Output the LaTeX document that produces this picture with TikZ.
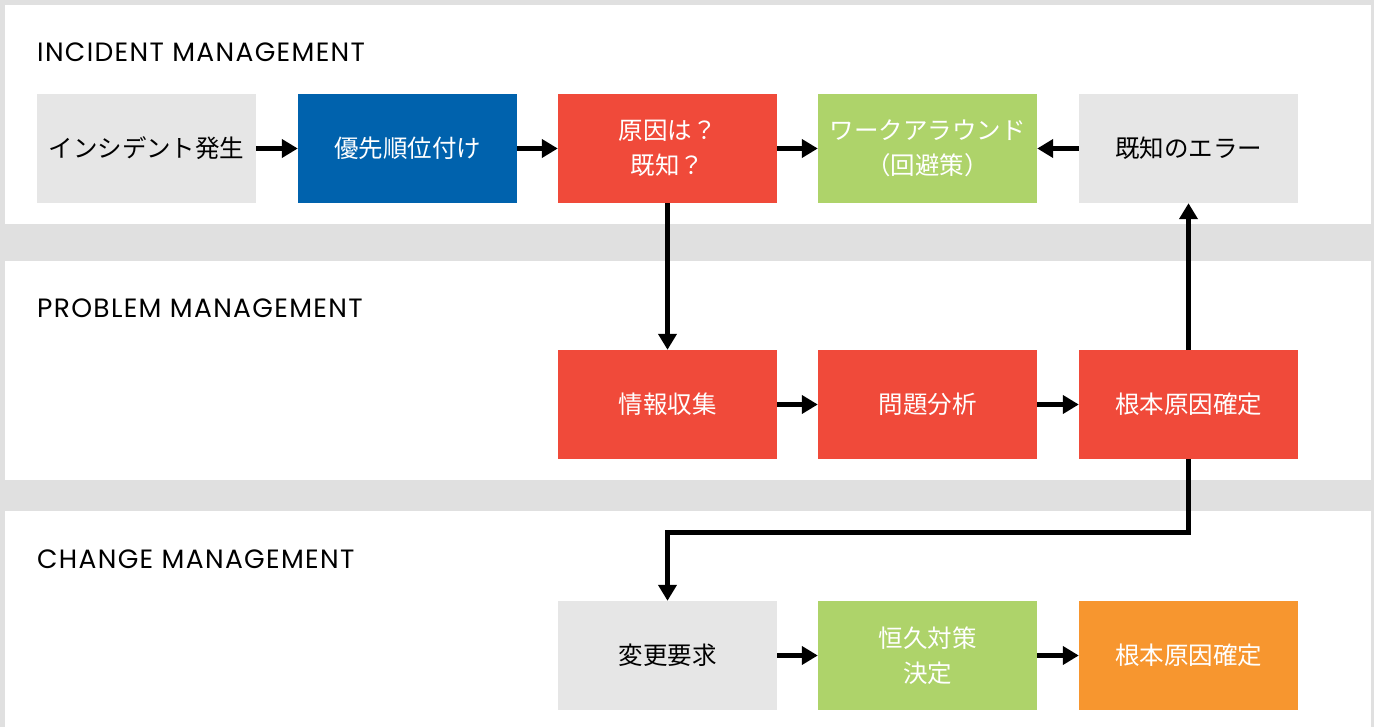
\documentclass[tikz,border=0pt]{standalone}
\usepackage{fontspec}
\setmainfont{Poppins}
\newfontfamily\jp{Noto Sans CJK JP}
\newfontfamily\hdr[LetterSpace=5]{Poppins}
\usetikzlibrary{arrows.meta}
\definecolor{bggray}{HTML}{E0E0E0}
\definecolor{boxgray}{HTML}{E6E6E6}
\definecolor{myblue}{HTML}{0062AD}
\definecolor{myred}{HTML}{F04A3A}
\definecolor{mygreen}{HTML}{AED36A}
\definecolor{myorange}{HTML}{F7962F}
\tikzset{
  box/.style={rectangle, minimum width=219pt, minimum height=109pt, inner sep=0pt, align=center, font=\jp\fontsize{24.5}{35}\selectfont},
  graybox/.style={box, fill=boxgray, text=black},
  bluebox/.style={box, fill=myblue, text=white},
  redbox/.style={box, fill=myred, text=white},
  greenbox/.style={box, fill=mygreen, text=white},
  orangebox/.style={box, fill=myorange, text=white},
  conn/.style={line width=5pt, -{Triangle[length=16pt,width=18pt]}},
  header/.style={anchor=west, inner sep=0pt, font=\hdr\fontsize{26.5}{30}\selectfont}
}
\begin{document}
\begin{tikzpicture}[x=1pt,y=-1pt]
\fill[bggray] (0,0) rectangle (1374,727);
\useasboundingbox (0,0) rectangle (1374,727);
\fill[white] (5,5) rectangle (1371,224);
\fill[white] (5,261) rectangle (1371,480);
\fill[white] (5,511) rectangle (1371,727);
\node[header] (h1) at (37,52) {INCIDENT MANAGEMENT};
\node[header] (h2) at (37,308) {PROBLEM MANAGEMENT};
\node[header] (h3) at (37,559) {CHANGE MANAGEMENT};
% row 1
\node[graybox] (a1) at (146.5,148.5) {インシデント発生};
\node[bluebox] (a2) at (407.5,148.5) {優先順位付け};
\node[redbox] (a3) at (667.5,148.5) {原因は？\\既知？};
\node[greenbox] (a4) at (927.5,148.5) {ワークアラウンド\\（回避策）};
\node[graybox] (a5) at (1188.5,148.5) {既知のエラー};
% row 2
\node[redbox] (b1) at (667.5,404.5) {情報収集};
\node[redbox] (b2) at (927.5,404.5) {問題分析};
\node[redbox] (b3) at (1188.5,404.5) {根本原因確定};
% row 3
\node[graybox] (c1) at (667.5,655.5) {変更要求};
\node[greenbox] (c2) at (927.5,655.5) {恒久対策\\決定};
\node[orangebox] (c3) at (1188.5,655.5) {根本原因確定};
\coordinate (k1) at (1188.5,532);
\coordinate (k2) at (667.5,532);
% connectors
\draw[conn] (a1) -- (a2);
\draw[conn] (a2) -- (a3);
\draw[conn] (a3) -- (a4);
\draw[conn] (a5) -- (a4);
\draw[conn] (a3) -- (b1);
\draw[conn] (b1) -- (b2);
\draw[conn] (b2) -- (b3);
\draw[conn] (b3) -- (a5);
\draw[conn] (b3.south) -- (k1) -- (k2) -- (c1.north);
\draw[conn] (c1) -- (c2);
\draw[conn] (c2) -- (c3);
\end{tikzpicture}
\end{document}
